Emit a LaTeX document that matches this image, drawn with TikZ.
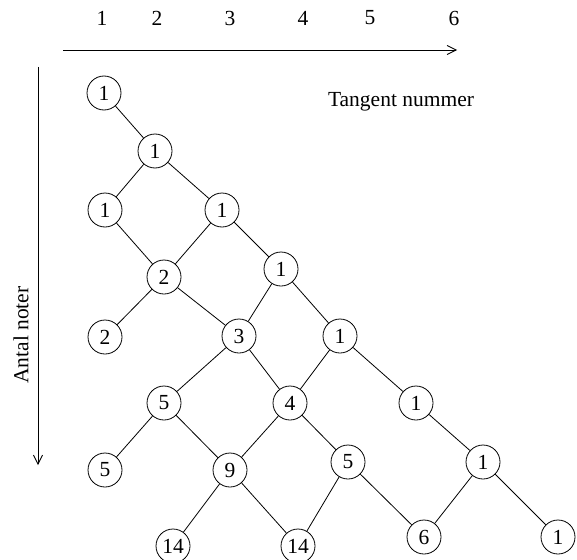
\documentclass[tikz,border=0pt]{standalone}
\usepackage{fontspec}
\setmainfont{Liberation Serif}
\usepackage{tikz}
\usetikzlibrary{arrows.meta}

\begin{document}
\begin{tikzpicture}[x=1pt,y=-1pt,line width=0.8pt,
    font=\fontsize{21.5}{25}\selectfont,
    num/.style={circle, draw, minimum size=34pt, inner sep=0pt},
    axis/.style={-{Straight Barb[length=9pt,width=9pt]}}]
    \useasboundingbox (0,0) rectangle (577,559);

    % tangent numbers along the top
    \node (t1) at (102,18) {1};
    \node (t2) at (157,18) {2};
    \node (t3) at (230,18) {3};
    \node (t4) at (303,18) {4};
    \node (t5) at (370,18) {5};
    \node (t6) at (454,18) {6};

    \coordinate (hstart) at (63,50);
    \coordinate (hend) at (457,50);
    \coordinate (vstart) at (38,67);
    \coordinate (vend) at (38,465);
    \draw[axis] (hstart) -- (hend);
    \draw[axis] (vstart) -- (vend);

    \node (tangent) at (401,102) {Tangent nummer};
    \node[rotate=90] (antal) at (21,335) {Antal noter};

    % the lattice
    \node[num] (a) at (104,93) {1};
    \node[num] (b) at (155,151) {1};
    \node[num] (c) at (105,210) {1};
    \node[num] (d) at (222,210) {1};
    \node[num] (e) at (164,277) {2};
    \node[num] (f) at (281,269) {1};
    \node[num] (u) at (105,337) {2};
    \node[num] (g) at (239,336) {3};
    \node[num] (h) at (340,336) {1};
    \node[num] (k) at (164,403) {5};
    \node[num] (i) at (290,403) {4};
    \node[num] (j) at (416,403) {1};
    \node[num] (l) at (105,470) {5};
    \node[num] (m) at (230,470) {9};
    \node[num] (o) at (348,462) {5};
    \node[num] (p) at (483,462) {1};
    \node[num] (n) at (173,546) {14};
    \node[num] (q) at (298,546) {14};
    \node[num] (r) at (424,537) {6};
    \node[num] (s) at (558,537) {1};

    \draw (a) -- (b);
    \draw (b) -- (c) (b) -- (d);
    \draw (c) -- (e) (d) -- (e) (d) -- (f);
    \draw (e) -- (u) (e) -- (g) (f) -- (g) (f) -- (h);
    \draw (g) -- (k) (g) -- (i) (h) -- (i) (h) -- (j);
    \draw (k) -- (l) (k) -- (m) (i) -- (m) (i) -- (o) (j) -- (p);
    \draw (m) -- (n) (m) -- (q) (o) -- (q) (o) -- (r) (p) -- (r) (p) -- (s);

\end{tikzpicture}
\end{document}
